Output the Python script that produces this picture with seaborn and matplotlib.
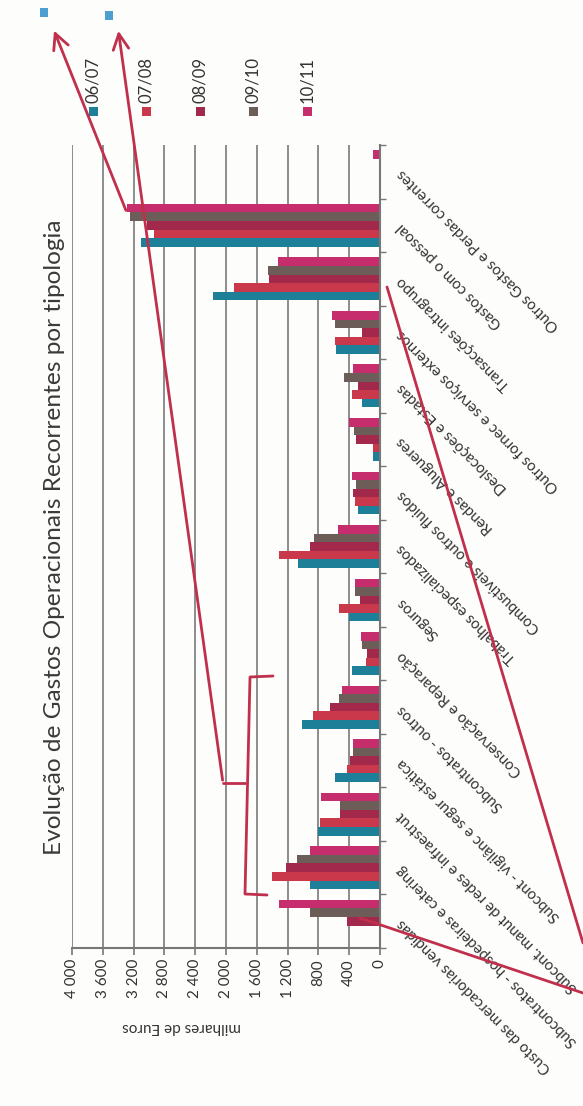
import numpy as np
import pandas as pd
import seaborn as sns
import matplotlib
matplotlib.use("Agg")
import matplotlib.pyplot as plt
from matplotlib.lines import Line2D
from matplotlib.patches import FancyArrowPatch, Rectangle

# ---------------- data ----------------
categories = [
    "Custo das mercadorias vendidas",
    "Subcontratos - hospedeiras e catering",
    "Subcont. manut de redes e infraestrut",
    "Subcont - vigilânc e segur estática",
    "Subcontratos - outros",
    "Conservação e Reparação",
    "Seguros",
    "Trabalhos especializados",
    "Combustíveis e outros fluidos",
    "Rendas e Alugueres",
    "Deslocações e Estadas",
    "Outros fornec e serviços externos",
    "Transacções intragrupo",
    "Gastos com o pessoal",
    "Outros Gastos e Perdas correntes",
]
periods = ["06/07", "07/08", "08/09", "09/10", "10/11"]

v_0607 = [0, 910, 800, 590, 1010, 360, 400, 1070, 285, 90, 240, 565, 2170, 3100, 0]
v_0708 = [0, 1400, 780, 430, 870, 180, 530, 1310, 320, 85, 360, 580, 1900, 2930, 0]
v_0809 = [425, 1220, 520, 390, 650, 165, 260, 915, 345, 310, 280, 240, 1445, 3030, 0]
v_0910 = [915, 1080, 520, 355, 530, 240, 325, 860, 310, 340, 465, 580, 1460, 3250, 0]
v_1011 = [1315, 910, 770, 355, 490, 250, 325, 545, 360, 400, 347, 620, 1330, 3290, 90]

x_ticks = [0, 400, 800, 1200, 1600, 2000, 2400, 2800, 3200, 3600, 4000]
x_tick_labels = ["0", "400", "800", "1 200", "1 600", "2 000", "2 400",
                 "2 800", "3 200", "3 600", "4 000"]

title = "Evolução de Gastos Operacionais Recorrentes por tipologia"
value_label = "milhares de Euros"

colors = ["#1d7f98", "#c9384b", "#a2294b", "#6d5d58", "#c52d6c"]

# ---------------- table ----------------
series = [v_0607, v_0708, v_0809, v_0910, v_1011]
df = pd.DataFrame({
    "categoria": np.tile(categories, len(periods)),
    "periodo": np.repeat(periods, len(categories)),
    "valor": np.concatenate(series),
})

# ---------------- figure ----------------
W, H = 583, 1106
sns.set_theme(style="white")
plt.rcParams["font.family"] = ["Lato", "DejaVu Sans"]

fig = plt.figure(figsize=(W / 100, H / 100), dpi=100)
fig.patch.set_facecolor("#fdfdfb")

def px(x, y):
    return (x / W, 1 - y / H)

ax_l, ax_r, ax_t, ax_b = 72, 380, 145, 948
ax = fig.add_axes([ax_l / W, 1 - ax_b / H, (ax_r - ax_l) / W, (ax_b - ax_t) / H])
ax.set_facecolor("#fdfdfb")

sns.barplot(data=df, x="valor", y="categoria", hue="periodo",
            order=categories, hue_order=periods, palette=colors,
            orient="h", width=0.8, saturation=1, legend=False,
            linewidth=0, ax=ax, errorbar=None)
ax.invert_yaxis()  # first category at bottom

ax.set_xlim(4000, 0)
ax.set_xticks(x_ticks)
ax.set_xticklabels(x_tick_labels, rotation=90, fontsize=11, color="#333333")
ax.grid(axis="x", color="#7a7a7a", linewidth=1.2)
ax.grid(axis="y", visible=False)
ax.set_axisbelow(True)

for s in ["top", "left"]:
    ax.spines[s].set_visible(False)
for s in ["right", "bottom"]:
    ax.spines[s].set_color("#777777")
    ax.spines[s].set_linewidth(1.5)

ax.tick_params(axis="x", which="major", direction="out", length=5, width=1.2,
               color="#777777", pad=3, bottom=True)

ax.yaxis.tick_right()
ax.set_ylabel("")
ax.set_yticks(np.arange(-0.5, len(categories), 1), minor=True)
ax.tick_params(axis="y", which="minor", direction="out", length=4, width=1,
               color="#777777", right=True, left=False)
ax.tick_params(axis="y", which="major", length=0, pad=14, right=True, left=False)
for lab in ax.get_yticklabels():
    lab.set_rotation(135)
    lab.set_rotation_mode("anchor")
    lab.set_ha("right")
    lab.set_va("center")
    lab.set_fontsize(10.8)
    lab.set_color("#333333")

ax.set_xlabel(value_label, rotation=180, fontsize=11, color="#333333")
ax.xaxis.set_label_coords((182 - ax_l) / (ax_r - ax_l), -(1020 - ax_b) / (ax_b - ax_t))

# title
fig.text(*px(55, 537), title, rotation=90, ha="center", va="center",
         fontsize=17.6, color="#3a3a3a")

# legend (rotated, drawn manually)
for i, (p, c) in enumerate(zip(periods, colors)):
    cx = 93 + i * 53.5
    fig.text(*px(cx, 103), p, rotation=90, ha="center", va="bottom",
             fontsize=12, color="#333333")
    x0, y0 = px(cx - 4.5, 116)
    fig.add_artist(Rectangle((x0, y0), 9 / W, 9 / H, transform=fig.transFigure,
                             facecolor=c, edgecolor="none"))

# hand-drawn red annotations
red = "#c0304c"
def seg(points, lw=2.0):
    xs, ys = zip(*[px(*p) for p in points])
    fig.add_artist(Line2D(xs, ys, transform=fig.transFigure, color=red,
                          linewidth=lw, solid_capstyle="round"))

def arrow(tail, tip):
    fig.add_artist(FancyArrowPatch(px(*tail), px(*tip), transform=fig.transFigure,
                                   arrowstyle="->", mutation_scale=28,
                                   color=red, linewidth=2.0))

arrow((127, 213), (53, 28))
arrow((223, 783), (118, 28))
seg([(223, 783), (245, 783)])
seg([(273, 676), (250, 677), (245, 894), (267, 895)])
seg([(387, 287), (583, 943)])
seg([(360, 918), (583, 993)])

for (bx, by) in [(40, 8), (105, 11)]:
    x0, y0 = px(bx, by + 9)
    fig.add_artist(Rectangle((x0, y0), 8 / W, 9 / H, transform=fig.transFigure,
                             facecolor="#4d9fcf", edgecolor="none"))

fig.savefig("out.png", dpi=100, facecolor=fig.get_facecolor())
